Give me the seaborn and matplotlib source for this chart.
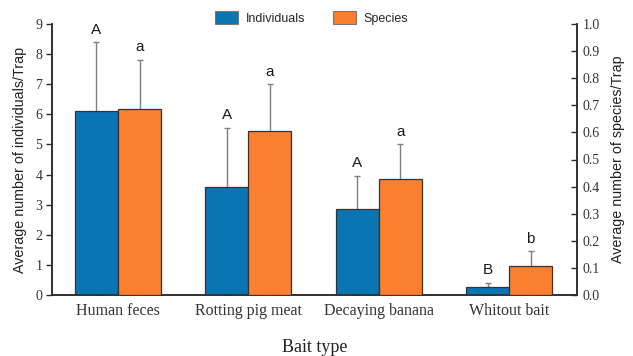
import numpy as np
import pandas as pd
import matplotlib
matplotlib.use("Agg")
import matplotlib.pyplot as plt
from matplotlib.patches import Patch
import seaborn as sns

baits = ["Human feces", "Rotting pig meat", "Decaying banana", "Whitout bait"]
ind_mean = [6.11, 3.58, 2.86, 0.27]
ind_err = [2.29, 1.97, 1.10, 0.14]
ind_letters = ["A", "A", "A", "B"]
sp_mean = [0.686, 0.605, 0.427, 0.107]
sp_err = [0.181, 0.173, 0.129, 0.055]
sp_letters = ["a", "a", "a", "b"]
series = ["Individuals", "Species"]
colors = {"Individuals": "#0a75b3", "Species": "#fb7f2f"}

sns.set_theme(style="white")
plt.rcParams["font.family"] = ["Liberation Sans", "DejaVu Sans"]
serif = "Liberation Serif"

ind_df = pd.DataFrame({"bait": baits, "value": ind_mean, "series": "Individuals"})
sp_df = pd.DataFrame({"bait": baits, "value": sp_mean, "series": "Species"})

fig = plt.figure(figsize=(6.33, 3.56), dpi=100)
ax = fig.add_axes([52 / 633, 1 - 295 / 356, 525 / 633, 271 / 356])
ax2 = ax.twinx()

bar_kw = dict(x="bait", y="value", hue="series", hue_order=series, order=baits,
              palette=colors, width=0.66, dodge=True, saturation=1,
              edgecolor="#333333", linewidth=0.9,
              errorbar=None, legend=False, zorder=3)
sns.barplot(data=ind_df, ax=ax, **bar_kw)
sns.barplot(data=sp_df, ax=ax2, **bar_kw)


def add_errors(axis, means, errs, letters):
    bars = [p for p in axis.patches if p.get_height() > 0]
    bars.sort(key=lambda p: p.get_x())
    xs = [p.get_x() + p.get_width() / 2 for p in bars]
    axis.errorbar(xs, means, yerr=[means, errs], fmt="none", ecolor="#7f7f7f",
                  elinewidth=1.0, capsize=2.2, capthick=1.0, zorder=2)
    for x, m, e, t in zip(xs, means, errs, letters):
        axis.annotate(t, (x, m + e), xytext=(0, 4), textcoords="offset points",
                      ha="center", va="bottom", fontsize=11, color="#1a1a1a")


add_errors(ax, ind_mean, ind_err, ind_letters)
add_errors(ax2, sp_mean, sp_err, sp_letters)

ax.set_xlim(-0.506, 3.52)
ax.set_ylim(0, 9)
ax2.set_ylim(0, 1.0)
ax.set_yticks(range(0, 10))
ax2.set_yticks(np.round(np.arange(0, 1.01, 0.1), 1))
ax2.set_yticklabels([f"{v:.1f}" for v in np.arange(0, 1.01, 0.1)])

for a in (ax, ax2):
    for s in a.spines.values():
        s.set_color("#2a2a2a")
        s.set_linewidth(1.1)
    a.spines["top"].set_visible(False)
    for lab in a.get_yticklabels():
        lab.set_fontfamily(serif)
        lab.set_fontsize(10)
        lab.set_color("#333333")

ax.tick_params(axis="y", direction="out", length=4, width=1, color="#2a2a2a", left=True, pad=3)
ax2.tick_params(axis="y", direction="in", length=4, width=1, color="#2a2a2a", right=True, pad=4)
ax.tick_params(axis="x", length=0, pad=6)
for lab in ax.get_xticklabels():
    lab.set_fontfamily(serif)
    lab.set_fontsize(11.5)
    lab.set_color("#333333")

ax.set_xlabel("Bait type", fontfamily=serif, fontsize=13, color="#222222", labelpad=14)
ax.set_ylabel("Average number of individuals/Trap", fontsize=10.3, color="#222222", labelpad=6)
ax2.set_ylabel("Average number of species/Trap", fontsize=10.3, color="#222222", labelpad=8)

handles = [Patch(facecolor=colors[s], edgecolor="#777777", linewidth=0.8, label=s) for s in series]
ax.legend(handles=handles, loc="upper center", bbox_to_anchor=(0.494, 1.09), ncol=2,
          frameon=False, fontsize=9, handlelength=1.85, handleheight=1.3,
          columnspacing=2.2, handletextpad=0.6)

fig.savefig("out.png", dpi=100)
